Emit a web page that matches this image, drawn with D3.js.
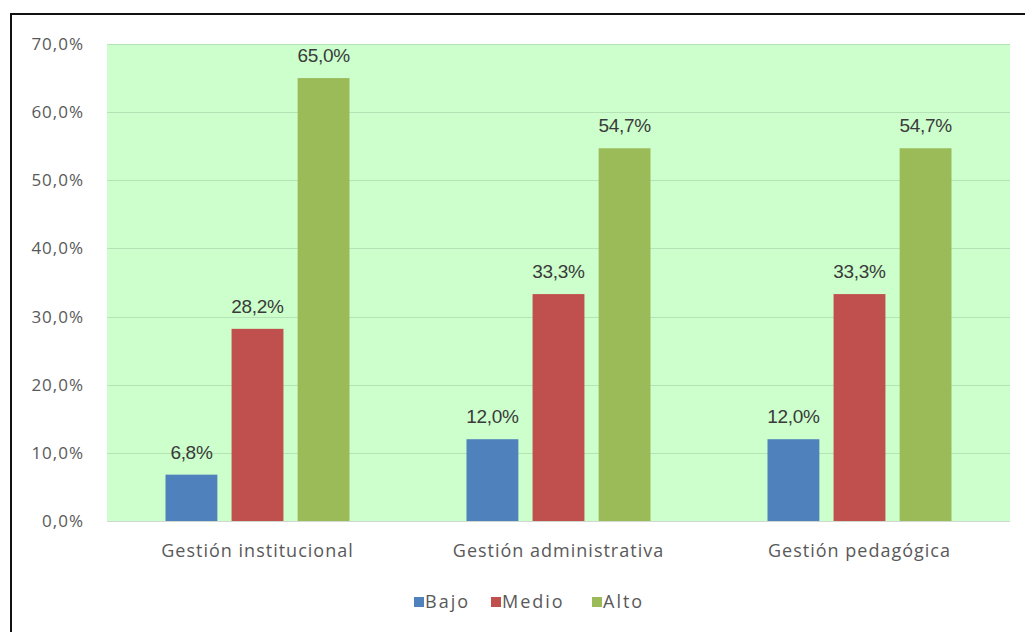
<!DOCTYPE html>
<html lang="es">
<head>
<meta charset="UTF-8">
<title>Gestión - niveles</title>
<style>
    body { margin: 0; background: #ffffff; }
    svg { display: block; }
    .tick-label { font-family: "Open Sans", "Noto Sans", sans-serif; font-size: 17px; fill: #595959; letter-spacing: 1px; }
    .cat-label { font-family: "Open Sans", "Noto Sans", sans-serif; font-size: 18px; fill: #595959; letter-spacing: 1px; }
    .data-label { font-family: "Liberation Sans", Arial, sans-serif; font-size: 19px; fill: #3a3a3a; letter-spacing: -0.3px; }
    .legend-label { font-family: "Open Sans", "Noto Sans", sans-serif; font-size: 18px; fill: #595959; letter-spacing: 2px; }
</style>
</head>
<body>
<svg id="chart"></svg>
<script src="https://d3js.org/d3.v7.min.js"></script>
<script>
    // Data
    const categories = ['Gestión institucional', 'Gestión administrativa', 'Gestión pedagógica'];
    const series = ['Bajo', 'Medio', 'Alto'];
    const bajo = [6.8, 12.0, 12.0];
    const medio = [28.2, 33.3, 33.3];
    const alto = [65.0, 54.7, 54.7];
    const yTicks = [0, 10, 20, 30, 40, 50, 60, 70];
    const colors = ['#4f81bd', '#c0504d', '#9bbb59'];

    const width = 1025, height = 632;
    const plot = { left: 107, right: 1010, top: 44, bottom: 521 };

    const values = [bajo, medio, alto];
    const rows = [];
    categories.forEach((c, ci) => {
        series.forEach((s, si) => rows.push({ cat: c, series: s, value: values[si][ci] }));
    });

    const svg = d3.select('#chart').attr('width', width).attr('height', height);

    // outer frame (only top and left edges are visible in the picture)
    svg.append('line').attr('x1', 11).attr('x2', width).attr('y1', 14).attr('y2', 14)
        .attr('stroke', '#111').attr('stroke-width', 2);
    svg.append('line').attr('x1', 11).attr('x2', 11).attr('y1', 13).attr('y2', height)
        .attr('stroke', '#111').attr('stroke-width', 2);

    const x = d3.scaleBand().domain(categories).range([plot.left, plot.right]);
    const xInner = d3.scaleBand().domain(series).range([0, 184]).paddingInner(0.215);
    const y = d3.scaleLinear().domain([0, 70]).range([plot.bottom, plot.top]);

    // plot background
    svg.append('rect')
        .attr('x', plot.left).attr('y', plot.top)
        .attr('width', plot.right - plot.left).attr('height', plot.bottom - plot.top)
        .attr('fill', '#ccffcc');

    // gridlines
    svg.append('g').selectAll('line')
        .data(yTicks)
        .enter().append('line')
        .attr('x1', plot.left).attr('x2', plot.right)
        .attr('y1', d => Math.round(y(d)) + 0.5).attr('y2', d => Math.round(y(d)) + 0.5)
        .attr('stroke', d => d === 0 ? '#d0d8d0' : '#b5e3b5')
        .attr('stroke-width', 1);

    // y tick labels
    svg.append('g').selectAll('text')
        .data(yTicks)
        .enter().append('text')
        .attr('class', 'tick-label')
        .attr('x', 84)
        .attr('y', d => y(d))
        .attr('dy', '0.35em')
        .attr('text-anchor', 'end')
        .text(d => d.toFixed(1).replace('.', ',') + '%');

    // bars
    const groupOffset = x.bandwidth() / 2 - 92;
    svg.append('g').selectAll('rect')
        .data(rows)
        .enter().append('rect')
        .attr('x', d => x(d.cat) + groupOffset + xInner(d.series))
        .attr('y', d => y(d.value))
        .attr('width', xInner.bandwidth())
        .attr('height', d => y(0) - y(d.value))
        .attr('fill', d => colors[series.indexOf(d.series)]);

    // data labels
    svg.append('g').selectAll('text')
        .data(rows)
        .enter().append('text')
        .attr('class', 'data-label')
        .attr('x', d => x(d.cat) + groupOffset + xInner(d.series) + xInner.bandwidth() / 2)
        .attr('y', d => y(d.value) - 16)
        .attr('text-anchor', 'middle')
        .text(d => d.value.toFixed(1).replace('.', ',') + '%');

    // category labels
    svg.append('g').selectAll('text')
        .data(categories)
        .enter().append('text')
        .attr('class', 'cat-label')
        .attr('x', d => x(d) + x.bandwidth() / 2)
        .attr('y', 551)
        .attr('dy', '0.35em')
        .attr('text-anchor', 'middle')
        .text(d => d);

    // legend
    const legend = svg.append('g').attr('transform', 'translate(0, 602)');
    const legendX = [414, 491, 592];
    const items = legend.selectAll('g')
        .data(series)
        .enter().append('g')
        .attr('transform', (d, i) => `translate(${legendX[i]}, 0)`);
    items.append('rect')
        .attr('x', 0).attr('y', -5)
        .attr('width', 10).attr('height', 10)
        .attr('fill', (d, i) => colors[i]);
    items.append('text')
        .attr('class', 'legend-label')
        .attr('x', 11).attr('y', 0)
        .attr('dy', '0.35em')
        .text(d => d);
</script>
</body>
</html>
